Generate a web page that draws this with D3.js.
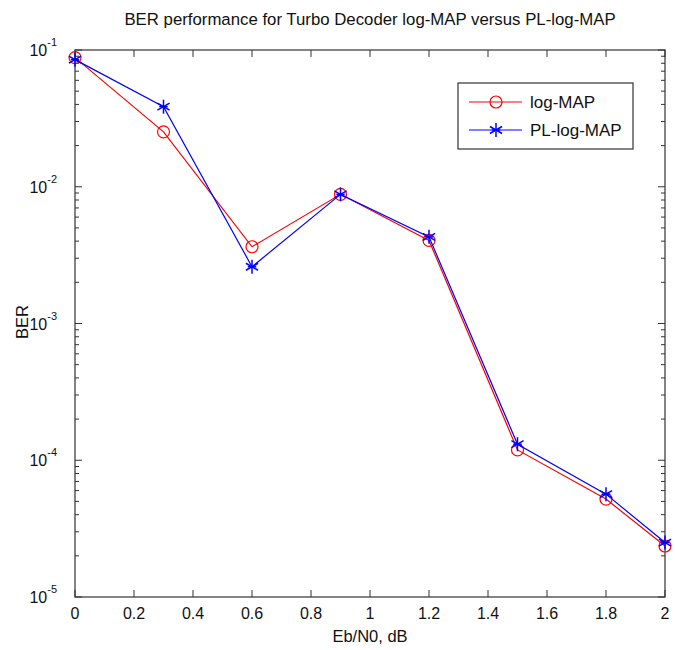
<html>
<head>
  <script src="https://d3js.org/d3.v7.min.js"></script>
  <style>
    body { margin: 0; background: #fff; }
    text { font-family: Arial, "Liberation Sans", sans-serif; fill: #111; }
  </style>
</head>
<body>
  <svg id="chart" width="675" height="650"></svg>
  <script>
    // data
    const ebno = [0, 0.3, 0.6, 0.9, 1.2, 1.5, 1.8, 2.0];
    const logMap = [0.088, 0.0252, 0.00364, 0.0088, 0.00405, 0.000119, 0.000052, 0.0000236];
    const plLogMap = [0.085, 0.0385, 0.0026, 0.0088, 0.0043, 0.000131, 0.0000565, 0.000025];
    const xTicks = [0, 0.2, 0.4, 0.6, 0.8, 1, 1.2, 1.4, 1.6, 1.8, 2];
    const yExponents = [-1, -2, -3, -4, -5];
    const seriesNames = ["log-MAP", "PL-log-MAP"];

    const margin = { top: 50, right: 10, bottom: 53, left: 75 };
    const width = 665 - margin.left;
    const height = 597 - margin.top;

    const svg = d3.select("svg#chart");
    const x = d3.scaleLinear().domain([0, 2]).range([0, width]);
    const y = d3.scaleLog().domain([1e-5, 1e-1]).range([height, 0]);

    const g = svg.append("g").attr("transform", `translate(${margin.left},${margin.top})`);

    // minor ticks for log axis
    let minor = [];
    for (let e = -5; e < -1; e++) {
      for (let m = 2; m <= 9; m++) minor.push(m * Math.pow(10, e));
    }

    const axisColor = "#333";
    const ticks = g.append("g").attr("stroke", axisColor).attr("stroke-width", 1);
    xTicks.forEach(t => {
      ticks.append("line").attr("x1", x(t)).attr("x2", x(t)).attr("y1", height).attr("y2", height - 7);
      ticks.append("line").attr("x1", x(t)).attr("x2", x(t)).attr("y1", 0).attr("y2", 7);
    });
    yExponents.forEach(e => {
      const v = Math.pow(10, e);
      ticks.append("line").attr("x1", 0).attr("x2", 7).attr("y1", y(v)).attr("y2", y(v));
      ticks.append("line").attr("x1", width).attr("x2", width - 7).attr("y1", y(v)).attr("y2", y(v));
    });
    minor.forEach(v => {
      ticks.append("line").attr("x1", 0).attr("x2", 4).attr("y1", y(v)).attr("y2", y(v));
      ticks.append("line").attr("x1", width).attr("x2", width - 4).attr("y1", y(v)).attr("y2", y(v));
    });

    g.append("rect").attr("width", width).attr("height", height)
      .attr("fill", "none").attr("stroke", axisColor).attr("stroke-width", 1.2);

    // tick labels
    g.selectAll(".xl").data(xTicks).join("text")
      .attr("x", d => x(d)).attr("y", height + 22)
      .attr("text-anchor", "middle").attr("font-size", 16)
      .text(d => d);

    const yl = g.selectAll(".yl").data(yExponents).join("text")
      .attr("x", -18).attr("y", d => y(Math.pow(10, d)) + 6)
      .attr("text-anchor", "end").attr("font-size", 16);
    yl.append("tspan").text("10");
    yl.append("tspan").attr("font-size", 11).attr("dy", -10).text(d => d);

    // series
    const series = [
      { name: seriesNames[0], values: logMap, color: "#ff0000", marker: "circle" },
      { name: seriesNames[1], values: plLogMap, color: "#0000ff", marker: "star" }
    ];
    const line = d3.line().x((d, i) => x(ebno[i])).y(d => y(d));

    function drawMarker(sel, cx, cy, s) {
      if (s.marker === "circle") {
        sel.append("circle").attr("cx", cx).attr("cy", cy).attr("r", 6)
          .attr("fill", "none").attr("stroke", s.color).attr("stroke-width", 1.2);
      } else {
        const r = 7;
        const pts = [[0, -r], [r * 0.87, -r / 2], [r * 0.87, r / 2]];
        pts.forEach(p => {
          sel.append("line").attr("x1", cx - p[0]).attr("y1", cy - p[1])
            .attr("x2", cx + p[0]).attr("y2", cy + p[1])
            .attr("stroke", s.color).attr("stroke-width", 1.5);
        });
        sel.append("line").attr("x1", cx - r * 0.6).attr("x2", cx + r * 0.6)
          .attr("y1", cy).attr("y2", cy).attr("stroke", s.color).attr("stroke-width", 1.5);
      }
    }

    series.forEach(s => {
      g.append("path").datum(s.values).attr("d", line)
        .attr("fill", "none").attr("stroke", s.color).attr("stroke-width", 1.2);
      const mg = g.append("g");
      s.values.forEach((v, i) => drawMarker(mg, x(ebno[i]), y(v), s));
    });

    // legend
    const lg = svg.append("g").attr("transform", "translate(458,83)");
    lg.append("rect").attr("width", 175).attr("height", 66)
      .attr("fill", "#fff").attr("stroke", axisColor).attr("stroke-width", 1.2);
    series.forEach((s, i) => {
      const ly = 19 + i * 28;
      lg.append("line").attr("x1", 11).attr("x2", 64).attr("y1", ly).attr("y2", ly)
        .attr("stroke", s.color).attr("stroke-width", 1.2);
      drawMarker(lg, 38, ly, s);
      lg.append("text").attr("x", 72).attr("y", ly + 6).attr("font-size", 17).text(s.name);
    });

    // titles
    svg.append("text").attr("x", 370).attr("y", 25).attr("text-anchor", "middle")
      .attr("font-size", 16.8).text("BER performance for Turbo Decoder log-MAP versus PL-log-MAP");
    svg.append("text").attr("x", 370).attr("y", 642).attr("text-anchor", "middle")
      .attr("font-size", 16.5).text("Eb/N0, dB");
    svg.append("text").attr("transform", "translate(28,322) rotate(-90)")
      .attr("text-anchor", "middle").attr("font-size", 16.5).text("BER");
  </script>
</body>
</html>
